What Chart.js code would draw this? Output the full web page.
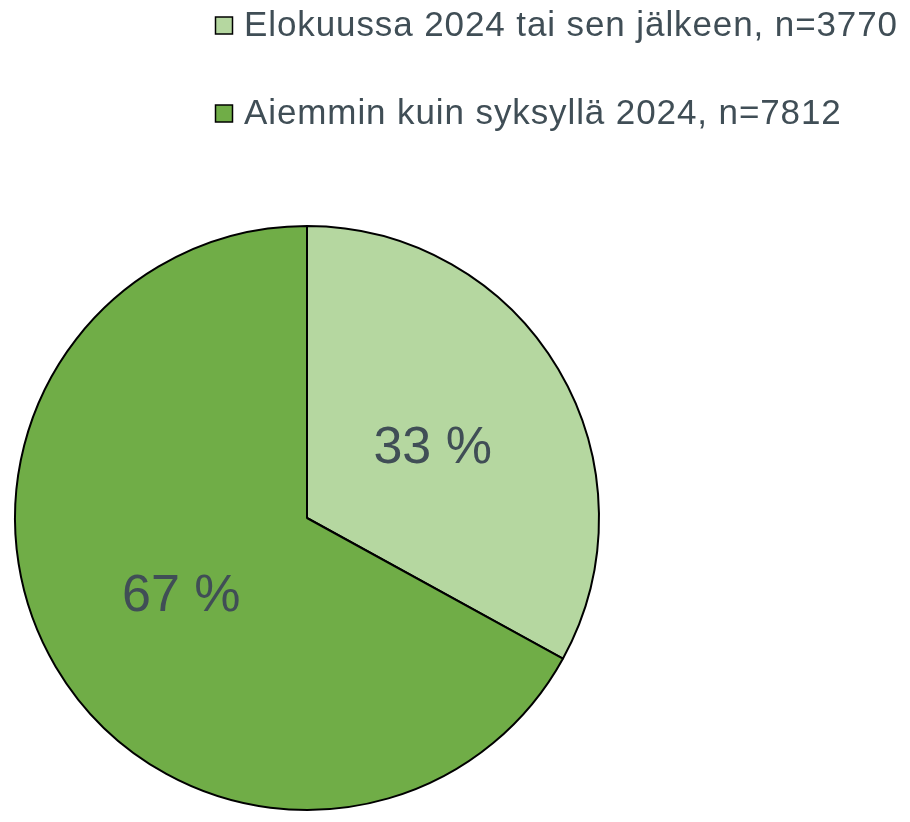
<!DOCTYPE html>
<html lang="fi">
<head>
<meta charset="UTF-8">
<title>Pie</title>
<script src="https://cdn.jsdelivr.net/npm/chart.js"></script>
<style>
    html, body { margin: 0; padding: 0; background: #fff; }
    #wrap { width: 910px; height: 822px; position: relative; }
</style>
</head>
<body>
<div id="wrap"><canvas id="pie"></canvas></div>
<script>
// data
const labels = ['Elokuussa 2024 tai sen jälkeen, n=3770', 'Aiemmin kuin syksyllä 2024, n=7812'];
const shares = [33, 67];
const colors = ['#B5D7A0', '#70AD47'];

const textColor = '#404E56';

// legend drawn by hand: one item per line, left aligned
const legendPlugin = {
    id: 'sideLegend',
    afterDraw(chart) {
        const ctx = chart.ctx;
        ctx.save();
        ctx.font = '35px "Liberation Sans", Arial, sans-serif';
        ctx.letterSpacing = '0.9px';
        ctx.textBaseline = 'alphabetic';
        labels.forEach((lab, i) => {
            const y = 26 + i * 88;
            ctx.fillStyle = colors[i];
            ctx.fillRect(215.5, y - 9, 17, 17);
            ctx.strokeStyle = '#000';
            ctx.lineWidth = 1.5;
            ctx.strokeRect(215.5, y - 9, 17, 17);
            ctx.fillStyle = textColor;
            ctx.fillText(lab, 244, y + 10);
        });
        ctx.restore();
    }
};

// percent labels at half the radius
const valuePlugin = {
    id: 'valueLabels',
    afterDatasetsDraw(chart) {
        const ctx = chart.ctx;
        const meta = chart.getDatasetMeta(0);
        ctx.save();
        ctx.font = '52px "Liberation Sans", Arial, sans-serif';
        ctx.fillStyle = textColor;
        ctx.textAlign = 'center';
        ctx.textBaseline = 'alphabetic';
        meta.data.forEach((arc, i) => {
            const p = arc.getProps(['x', 'y', 'startAngle', 'endAngle', 'outerRadius'], true);
            const mid = (p.startAngle + p.endAngle) / 2;
            const r = p.outerRadius * 0.5;
            ctx.fillText(shares[i] + ' %', p.x + Math.cos(mid) * r, p.y + Math.sin(mid) * r + 19);
        });
        ctx.restore();
    }
};

new Chart(document.getElementById('pie'), {
    type: 'pie',
    data: {
        labels: labels,
        datasets: [{
            data: shares,
            backgroundColor: colors,
            borderColor: '#000',
            borderWidth: 2
        }]
    },
    options: {
        responsive: true,
        maintainAspectRatio: false,
        animation: false,
        layout: { padding: { left: 14, right: 310, top: 225, bottom: 11 } },
        plugins: {
            legend: { display: false },
            tooltip: { enabled: false }
        }
    },
    plugins: [legendPlugin, valuePlugin]
});
</script>
</body>
</html>
